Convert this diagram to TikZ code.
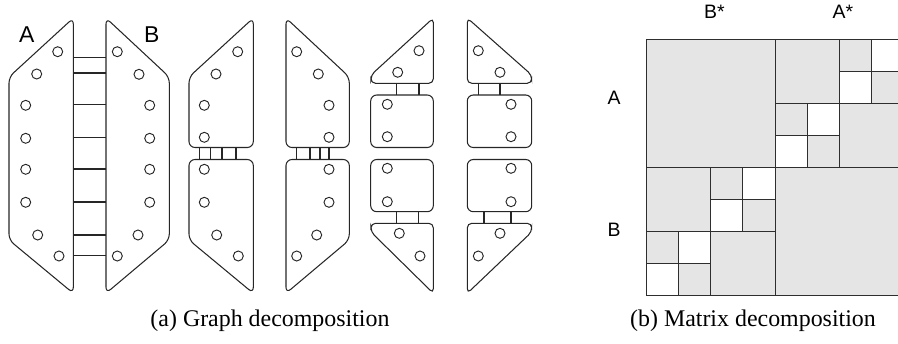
\documentclass[tikz,border=0pt]{standalone}
\usepackage{fontspec}
\setmainfont{Liberation Serif}
\newfontfamily\lsans{Liberation Sans}
\begin{document}
\begin{tikzpicture}[x=1bp,y=-1bp,
  outline/.style={draw=black!85, line width=1.05bp, line join=miter},
  vtx/.style={circle, draw=black!85, line width=0.95bp, minimum size=10bp, inner sep=0pt},
  link/.style={draw=black!85, line width=1.05bp},
  cell/.style={draw=black!82, line width=1bp},
  biglabel/.style={font=\lsans\fontsize{23}{23}\selectfont, inner sep=0pt},
  mlabel/.style={font=\lsans\fontsize{19.5}{19.5}\selectfont, inner sep=0pt},
  caption/.style={font=\fontsize{24}{24}\selectfont, anchor=base, inner sep=0pt}]
\useasboundingbox (0,0) rectangle (898,343);

% ---------- stage 1 ----------
\draw[outline] (73.3,293.3) [rounded corners=6bp] -- (73.3,18) -- (9,77) -- (9,240) -- cycle;
\draw[outline] (106,293.3) [rounded corners=6bp] -- (169.3,240) -- (169.3,77) -- (106,18) -- cycle;
\foreach \y in {57.5,73,104.3,137.3,169,202,235,255.5}
  \draw[link] (73.3,\y) -- (106,\y);

% ---------- stage 2 ----------
\draw[outline] (253.3,147.5) [rounded corners=6bp] -- (253.3,18) -- (189,77) -- (189,147.5) -- cycle;
\draw[outline] (253.3,293.3) [rounded corners=6bp] -- (189,240) -- (189,159.5) -- (253.3,159.5) -- cycle;
\draw[outline] (286,147.5) [rounded corners=6bp] -- (286,18) -- (349.3,77) -- (349.3,147.5) -- cycle;
\draw[outline] (286,293.3) [rounded corners=6bp] -- (349.3,240) -- (349.3,159.5) -- (286,159.5) -- cycle;
\foreach \x in {199.3,210.7,222,236,296.7,310,320,329}
  \draw[link] (\x,147.5) -- (\x,159.5);

% ---------- stage 3 ----------
\draw[outline] (433.3,83.3) [rounded corners=4.5bp] -- (433.3,18) -- (371,75) -- (371,83.3) -- cycle;
\draw[outline] (433.3,147.5) [rounded corners=6bp] -- (370.7,147.5) -- (370.7,95) -- (433.3,95) -- cycle;
\draw[outline] (370.7,159.5) [rounded corners=6bp] -- (370.7,211.7) -- (433.3,211.7) -- (433.3,159.5) -- cycle;
\draw[outline] (433.3,293.3) [rounded corners=4.5bp] -- (371,232) -- (371,223.3) -- (433.3,223.3) -- cycle;
\draw[outline] (467.3,83.3) [rounded corners=4.5bp] -- (467.3,18) -- (531.7,75) -- (531.7,83.3) -- cycle;
\draw[outline] (531.7,147.5) [rounded corners=6bp] -- (467.3,147.5) -- (467.3,95) -- (531.7,95) -- cycle;
\draw[outline] (467.3,159.5) [rounded corners=6bp] -- (467.3,211.7) -- (531.7,211.7) -- (531.7,159.5) -- cycle;
\draw[outline] (467.3,293.3) [rounded corners=4.5bp] -- (531.7,232) -- (531.7,223.3) -- (467.3,223.3) -- cycle;
\foreach \x in {396.7,419,478.3,500}
  \draw[link] (\x,83.3) -- (\x,95);
\foreach \x in {396.7,418.3,484,511}
  \draw[link] (\x,211.7) -- (\x,223.3);

% ---------- vertices ----------
\foreach \p [count=\i] in {(57.7,51.7),(36.7,74),(25.7,105.3),(25.7,138.3),(25.7,169.3),(25.7,202.3),(37.7,235),(59,256)}
  \node[vtx] (pa\i) at \p {};
\foreach \p [count=\i] in {(117.3,51.7),(139,74.3),(149.7,105.3),(149.7,138.3),(149.7,169.3),(149.7,202.3),(138,235),(117.3,256)}
  \node[vtx] (pb\i) at \p {};
\foreach \p [count=\i] in {(237.7,51.7),(216,74),(204.3,105.3),(204.3,137.3),(204.3,169.3),(204.3,202.3),(216.7,235),(238.3,256)}
  \node[vtx] (qa\i) at \p {};
\foreach \p [count=\i] in {(296.7,51.7),(318.3,74),(329,105.3),(329,137.3),(329,169.3),(329,202.3),(316.7,235),(296.7,256)}
  \node[vtx] (qb\i) at \p {};
\foreach \p [count=\i] in {(419,50.7),(397.7,72.3),(387.3,104.3),(387.3,136.7),(387.3,168.3),(387.3,201.7),(399.3,233.3),(420,256)}
  \node[vtx] (ra\i) at \p {};
\foreach \p [count=\i] in {(478.3,50.7),(500,72.3),(511,104.3),(511,136.7),(511,168.3),(511,201.7),(500,233.3),(478.3,256)}
  \node[vtx] (rb\i) at \p {};

% ---------- labels ----------
\node[biglabel] (lA) at (26.7,35) {A};
\node[biglabel] (lB) at (151.7,34.7) {B};

% ---------- matrix ----------
\begin{scope}
\clip (0,0) rectangle (898,343);
\begin{scope}[shift={(646.7,39.3)}, x=32.08bp, y=-32.08bp]
\fill[black!10] (0,0) rectangle (8,8);
\fill[white] (7,0) rectangle (8,1) (6,1) rectangle (7,2) (5,2) rectangle (6,3) (4,3) rectangle (5,4)
             (3,4) rectangle (4,5) (2,5) rectangle (3,6) (1,6) rectangle (2,7) (0,7) rectangle (1,8);
\draw[cell] (0,0) rectangle (8,8);
\draw[cell] (4,0) -- (4,8) (0,4) -- (8,4);
\draw[cell] (6,0) -- (6,4) (4,2) -- (8,2) (7,0) -- (7,2) (6,1) -- (8,1) (5,2) -- (5,4) (4,3) -- (6,3);
\draw[cell] (2,4) -- (2,8) (0,6) -- (4,6) (3,4) -- (3,6) (2,5) -- (4,5) (1,6) -- (1,8) (0,7) -- (2,7);
\end{scope}
\end{scope}
\node[mlabel] (mA) at (614,98.3) {A};
\node[mlabel] (mB) at (614,229.5) {B};
\node[mlabel] (mBs) at (714.5,11.7) {B*};
\node[mlabel] (mAs) at (842.8,11.7) {A*};

% ---------- captions ----------
\node[caption] (capa) at (270,326) {(a) Graph decomposition};
\node[caption] (capb) at (753,326) {(b) Matrix decomposition};
\end{tikzpicture}
\end{document}
